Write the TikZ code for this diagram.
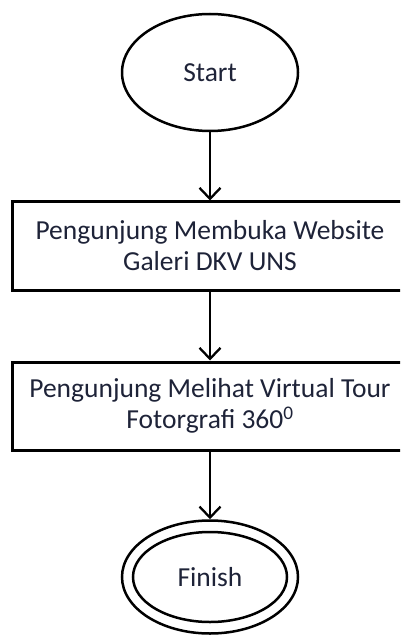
\documentclass[tikz,border=0pt]{standalone}
\usepackage{fontspec}
\setmainfont{Carlito}
\usetikzlibrary{shapes.geometric,arrows.meta}
\definecolor{txt}{RGB}{30,35,56}
\begin{document}
\begin{tikzpicture}[x=1pt,y=-1pt,
  every node/.style={font=\fontsize{27.5}{31}\selectfont, text=txt, align=center},
  terminal/.style={ellipse, draw, line width=2.5pt, inner sep=0pt},
  processbox/.style={rectangle, draw, line width=3pt, minimum width=396pt, minimum height=88pt, inner sep=0pt},
  flow/.style={line width=2.3pt, -{Straight Barb[length=11pt,width=21pt,line width=2.3pt]}}]
  \useasboundingbox (0,0) rectangle (400,636);
  \clip (0,0) rectangle (400,636);

  % terminals and process steps
  \node[terminal, minimum width=176pt, minimum height=117pt] (start) at (210,72.5) {Start};
  \node[processbox] (visit) at (210,246) {Pengunjung Membuka Website\\Galeri DKV UNS};
  \node[processbox] (tour) at (210,406) {Pengunjung Melihat Virtual Tour\\Fotorgrafi 360\textsuperscript{0}};
  \node[terminal, minimum width=176pt, minimum height=113pt] (finish) at (210,577) {Finish};
  \node[terminal, minimum width=154pt, minimum height=90pt] (finishin) at (finish.center) {};

  % flow connectors
  \draw[flow] (start) -- (visit);
  \draw[flow] (visit) -- (tour);
  \draw[flow] (tour) -- (finish);
\end{tikzpicture}
\end{document}
